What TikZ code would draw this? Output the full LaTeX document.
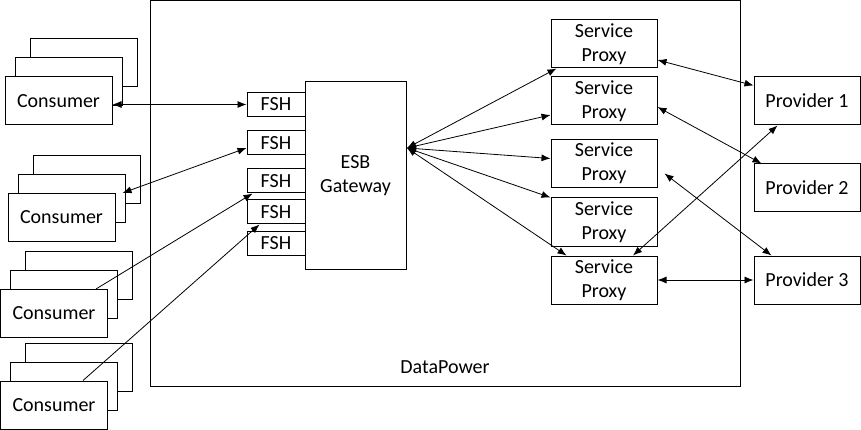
\documentclass[tikz,border=0pt]{standalone}
\usepackage{fontspec}
\setmainfont{Carlito}
\usetikzlibrary{arrows,arrows.meta,calc,positioning}
\tikzset{%
        x = 1pt,
        y = -1pt,
        >={Latex[length=9pt,width=7pt]}
}
\tikzstyle{block}=[
    draw = black,
    fill = white,
    line width = 1pt,
    inner sep = 0pt,
    align = center
]
\tikzstyle{consumer}=[block, minimum width = 107pt, minimum height = 48pt]
\tikzstyle{fsh}=[block, minimum width = 58pt, minimum height = 24pt]
\tikzstyle{proxy}=[block, minimum width = 106pt, minimum height = 48pt]
\tikzstyle{link}=[
    draw = black,
    line width = 0.8pt
]

\begin{document}
\begin{tikzpicture}[font = \fontsize{20}{24}\selectfont]
        \useasboundingbox (0,0) rectangle (861,430);
        \node[block, fill = none, minimum width = 590pt, minimum height = 385pt] (dp) at (445,193.5) {};
        \node (dplabel) at (445,367) {DataPower};
        % consumers
        \foreach \n/\cx/\cy in {1/58.5/101, 2/61.5/217.5, 3/54/313.5, 4/54/405} {
            \node[consumer] (c\n b) at (\cx+25,\cy-38) {};
            \node[consumer] (c\n m) at (\cx+10,\cy-19) {};
            \node[consumer] (c\n) at (\cx,\cy) {Consumer};
        }
        % gateway
        \node[fsh] (f1) at (276,104.5) {FSH};
        \node[fsh] (f2) at (276,143) {FSH};
        \node[fsh] (f3) at (276,181) {FSH};
        \node[fsh] (f4) at (276,212) {FSH};
        \node[fsh] (f5) at (276,243.5) {FSH};
        \node[block, minimum width = 101pt, minimum height = 187pt] (esb) at (355.5,175.5) {ESB\\Gateway};
        \coordinate (hub) at (407,148);
        % proxies
        \node[proxy] (s1) at (604,44) {Service\\Proxy};
        \node[proxy] (s2) at (604,101) {Service\\Proxy};
        \node[proxy] (s3) at (604,163.5) {Service\\Proxy};
        \node[proxy] (s4) at (604,222) {Service\\Proxy};
        \node[proxy] (s5) at (604,280) {Service\\Proxy};
        % providers
        \node[proxy] (p1) at (807,101) {Provider 1};
        \node[proxy] (p2) at (807,188) {Provider 2};
        \node[proxy] (p3) at (807,280) {Provider 3};
        \path[link]
        (c1.east |- f1.west) edge[<->] (f1.west)
        ([xshift=7pt]c2.north east) edge[<->] ([yshift=-5pt]f2.west)
        ([xshift=-12pt]c3.north east) edge[->] ([xshift=6pt]f3.south west)
        ([xshift=-25pt]c4.north east) edge[->] ([xshift=13pt]f4.south west)
        (hub) edge[<->] ([xshift=6pt]s1.south west)
        (hub) edge[<->] ([yshift=-14pt]s2.west)
        (hub) edge[<->] ([yshift=5pt]s3.west)
        (hub) edge[<->] (s4.north west)
        (hub) edge[<->] ([xshift=16pt]s5.north west)
        ([yshift=-16pt]s1.east) edge[<->] ([yshift=-9pt]p1.north west)
        ([yshift=-6pt]s2.east) edge[<->] ([xshift=8pt]p2.north west)
        ([xshift=24pt]p1.south west) edge[<->] ([xshift=29pt]s5.north)
        ([xshift=7pt,yshift=-10pt]s3.east) edge[<->] ([xshift=18pt]p3.north west)
        (s5.east) edge[<->] (p3.west)
        ;
    \end{tikzpicture}
\end{document}
